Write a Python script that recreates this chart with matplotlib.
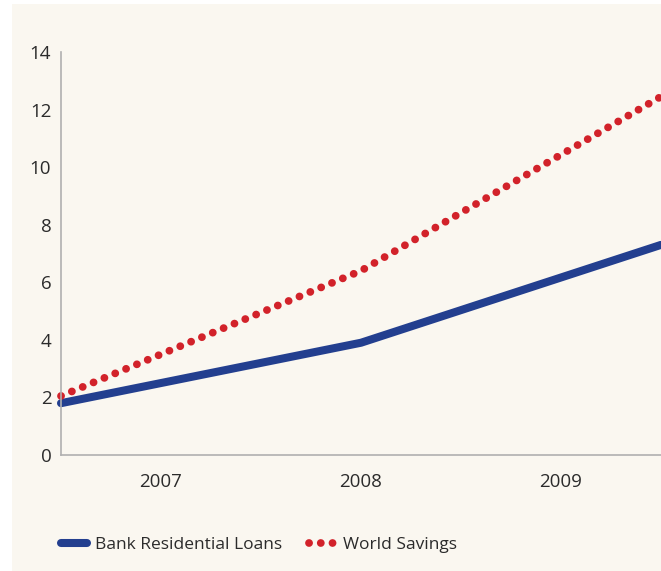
import matplotlib.pyplot as plt
from matplotlib.patches import Rectangle

# Datos
posiciones = [0, 1.5, 3]
prestamos = [1.8, 3.9, 7.3]
ahorros = [2.05, 6.4, 12.45]
anios = ['2007', '2008', '2009']
pos_anios = [0.5, 1.5, 2.5]
yticks = [0, 2, 4, 6, 8, 10, 12, 14]

azul = '#233f8f'
rojo = '#d2222a'
crema = '#faf7f0'
texto = '#2b2b2b'

plt.rcParams['font.family'] = ['Open Sans', 'DejaVu Sans']

fig = plt.figure(figsize=(6.61, 5.71), dpi=100)
fig.patch.set_facecolor('white')
fig.patches.append(Rectangle((12 / 661, 0), 1, 1 - 4 / 571, transform=fig.transFigure,
                             facecolor=crema, edgecolor='none', zorder=-10))

ax = fig.add_axes([61 / 661, 1 - 455 / 571, 600 / 661, (455 - 52) / 571])
ax.set_facecolor(crema)

ax.plot(posiciones, prestamos, color=azul, linewidth=5.8, solid_capstyle='round',
        label='Bank Residential Loans', clip_on=False)
ax.plot(posiciones, ahorros, color=rojo, linewidth=5.6, linestyle=(0, (0.01, 1.5)),
        dash_capstyle='round', label='World Savings', clip_on=False)

ax.set_xlim(0, 3)
ax.set_ylim(0, 14)
ax.set_xticks(pos_anios)
ax.set_xticklabels(anios)
ax.set_yticks(yticks)
ax.tick_params(length=0, labelsize=13.5, colors=texto)
ax.tick_params(axis='y', pad=7)
ax.tick_params(axis='x', pad=13)

for lado in ['top', 'right']:
    ax.spines[lado].set_visible(False)
for lado in ['left', 'bottom']:
    ax.spines[lado].set_color('#b0b0b0')
    ax.spines[lado].set_linewidth(1.2)

leg = fig.legend(loc='center left', bbox_to_anchor=(45 / 661, 1 - 545 / 571), ncol=2,
                 frameon=False, fontsize=12.5, handlelength=1.5, handletextpad=0.5,
                 columnspacing=1.5, labelcolor=texto)

plt.savefig('out.png', dpi=100, facecolor='white')
